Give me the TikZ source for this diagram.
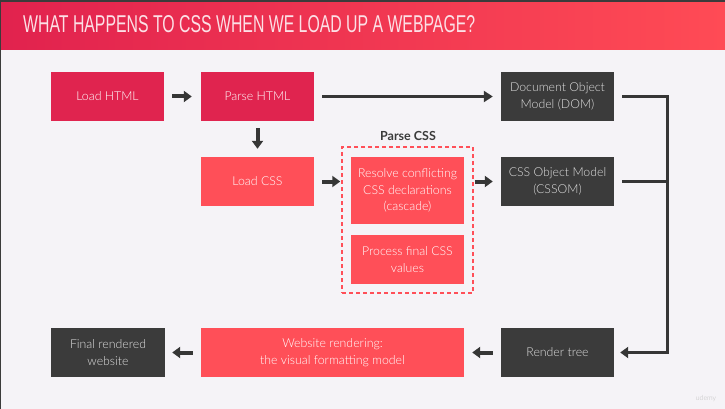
\documentclass[tikz,border=0pt]{standalone}
\usepackage{fontspec}
\usepackage{graphicx}
\IfFontExistsTF{Lato Light}{\setmainfont{Lato Light}[BoldFont=Lato Bold]}{\setmainfont{Lato}}
\newfontfamily\boldlabelfont{Lato}
\newfontfamily\titlefont{Liberation Sans}
\usetikzlibrary{arrows.meta}
\definecolor{bg}{HTML}{F5F3F7}
\definecolor{darkred}{HTML}{E0244F}
\definecolor{lightred}{HTML}{FF4F58}
\definecolor{darkbox}{HTML}{3B3B3B}
\definecolor{titleL}{HTML}{E1224E}
\definecolor{titleR}{HTML}{FF4B55}
\definecolor{arrowc}{HTML}{363636}
\definecolor{titletext}{HTML}{FCE0E6}
\begin{document}
\begin{tikzpicture}[x=1pt,y=-1pt,
  box/.style={minimum width=113pt, minimum height=49pt, align=center, text=white,
    font=\fontsize{12.3}{16.5}\selectfont, inner sep=2pt},
  redbox/.style={box, fill=darkred},
  pinkbox/.style={box, fill=lightred},
  greybox/.style={box, fill=darkbox, text=white!88!black},
  fat/.style={draw=arrowc, line width=4pt, -{Triangle[length=8pt,width=11pt]}},
  conn/.style={draw=arrowc, line width=3pt},
  connarrow/.style={conn, -{Triangle[length=9pt,width=11pt]}}
]
\useasboundingbox (0,0) rectangle (725,409);
\fill[bg] (0,0) rectangle (725,409);
\shade[left color=titleL, right color=titleR] (0,2) rectangle (725,50);
\fill[darkbox] (0,0) rectangle (725,2);
\fill[darkbox] (0,0) rectangle (1,409);

\node[anchor=base west, inner sep=0pt, text=titletext] (title) at (23,33)
  {\resizebox{452pt}{17pt}{\titlefont WHAT HAPPENS TO CSS WHEN WE LOAD UP A WEBPAGE?}};

% boxes
\node[redbox] (loadhtml) at (107.5,96.5) {Load HTML};
\node[redbox] (parsehtml) at (257.5,96.5) {Parse HTML};
\node[pinkbox] (loadcss) at (257.5,181.5) {Load CSS};
\node[greybox] (dom) at (557.5,96.5) {Document Object\\Model (DOM)};
\node[greybox] (cssom) at (557.5,181.5) {CSS Object Model\\(CSSOM)};
\node[pinkbox, minimum height=67pt] (resolve) at (407.5,190.5) {Resolve conflicting\\CSS declarations\\(cascade)};
\node[pinkbox] (process) at (407.5,259.5) {Process final CSS\\values};
\node[draw=lightred, line width=1.5pt, dash pattern=on 4pt off 3pt, minimum width=131pt,
  minimum height=146pt, inner sep=0pt] (parsecss) at (407.5,220) {};
\node[font=\boldlabelfont\fontsize{12.5}{14}\selectfont\bfseries, text=darkbox] (parsecsslabel) at (408,136) {Parse CSS};

\node[greybox, minimum width=114pt] (final) at (108,352.5) {Final rendered\\website};
\node[pinkbox, minimum width=263pt] (website) at (332.5,352.5) {Website rendering:\\the visual formatting model};
\node[greybox] (render) at (557.5,352.5) {Render tree};

% connectors
\draw[fat, shorten <=8pt, shorten >=9pt] (loadhtml.east) -- (parsehtml.west);
\draw[fat, shorten <=7pt, shorten >=8pt] (parsehtml.south) -- (loadcss.north);
\draw[connarrow, shorten <=8pt, shorten >=8pt] (parsehtml.east) -- (dom.west);
\draw[fat, shorten <=8pt, shorten >=1pt] (loadcss.east) -- (loadcss.east -| parsecss.west);
\draw[fat, shorten <=1pt, shorten >=8pt] (loadcss.east -| parsecss.east) -- (cssom.west);
\draw[conn] ([xshift=8pt]cssom.east) -- ++(45,0);
\draw[conn, -{Triangle[length=8pt,width=11pt]}]
  ([xshift=8pt]dom.east) -- ++(45,0) |- ([xshift=6pt]render.east);
\draw[fat, shorten <=8pt, shorten >=8pt] (render.west) -- (website.east);
\draw[fat, shorten <=8pt, shorten >=7pt] (website.west) -- (final.east);

\node[text=black!25, font=\fontsize{7}{8}\selectfont] (udemy) at (706,399) {udemy};
\end{tikzpicture}
\end{document}
